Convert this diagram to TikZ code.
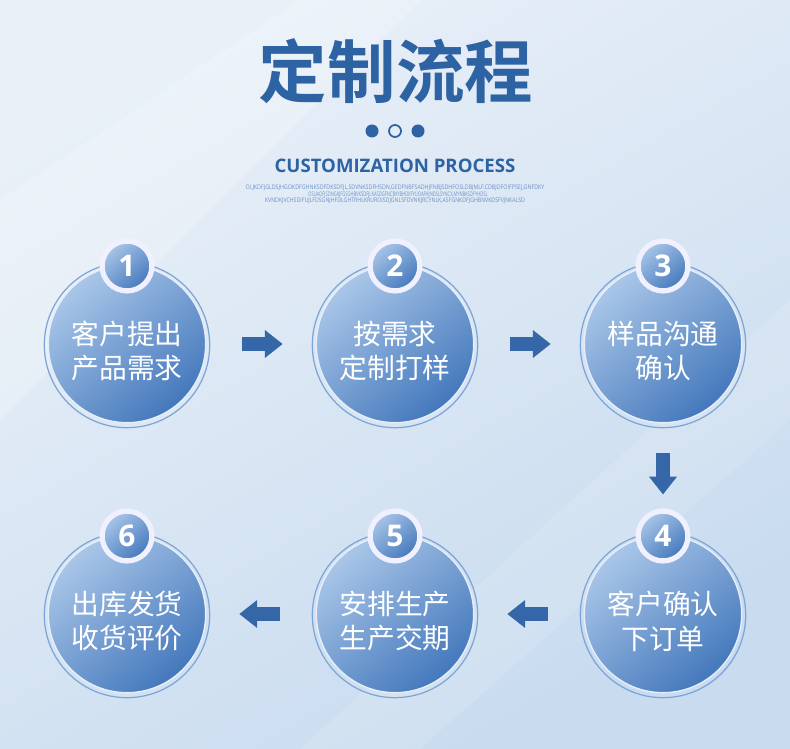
\documentclass[tikz,border=0pt]{standalone}
\usepackage{fontspec}
\usepackage{graphicx}
\setmainfont{Open Sans}
\newfontfamily\cjk{Noto Sans CJK SC}
\newfontfamily\cjkb{Noto Sans CJK SC Bold}
\usetikzlibrary{arrows.meta,calc}
\definecolor{titleblue}{HTML}{2D62A3}
\definecolor{arrowblue}{HTML}{3566A8}
\definecolor{circlelight}{HTML}{A9C6E8}
\definecolor{circledark}{HTML}{4478BC}
\definecolor{ringblue}{HTML}{7DA4D6}
\definecolor{bgA}{HTML}{E9F0F8}
\definecolor{bgB}{HTML}{C8DBEF}
\definecolor{tinyblue}{HTML}{6A90C4}
\tikzset{
  mainc/.style={circle, minimum size=158*0.567pt, inner sep=0pt,
    top color=circlelight, bottom color=circledark, shading angle=40,
    draw=white!70!circlelight, line width=0.8pt},
  ringc/.style={circle, minimum size=166*0.567pt, inner sep=0pt, draw=ringblue, line width=0.7pt},
  numc/.style={circle, minimum size=50*0.567pt, inner sep=0pt,
    top color=circlelight, bottom color=circledark, shading angle=40,
    draw=white!94!blue, line width=3pt,
    text=white, font=\fontsize{17pt}{17pt}\selectfont\bfseries},
  steptext/.style={align=center, text=white, inner sep=0pt,
    font=\cjk\fontsize{15.8pt}{19.8pt}\selectfont},
  blockarrow/.style={draw=arrowblue, line width=7.9pt,
    -{Triangle[width=15.3pt,length=10.2pt]}},
}
\begin{document}
\begin{tikzpicture}[x=0.02cm,y=-0.02cm]
\useasboundingbox (0,0) rectangle (790,749);
\shade[top color=bgA, bottom color=bgB, shading angle=30] (0,0) rectangle (790,749);
\fill[white, opacity=0.2] (0,200) -- (300,0) -- (420,0) -- (0,420) -- cycle;
\fill[white, opacity=0.12] (300,749) -- (790,300) -- (790,420) -- (420,749) -- cycle;

% title
\node[text=titleblue, font=\cjkb\fontsize{39pt}{39pt}\selectfont] (title) at (396,71) {定制流程};
\fill[titleblue] (372,131) circle (6.5);
\draw[titleblue, line width=1pt] (395,131) circle (6);
\fill[titleblue] (418,131) circle (6.5);
\node[text=titleblue, font=\fontsize{10.6pt}{10.6pt}\selectfont\bfseries] (sub) at (395,166) {CUSTOMIZATION PROCESS};
\node[text=tinyblue, inner sep=0pt] (t1) at (395,188) {\resizebox{170pt}{2.6pt}{OLJKDFJGLDSJHGOKDFGHNKSDFDKSDFJL,SDVNKSDFHSDN,GEDFNBFSADHJFNBJSDHFOSLDBJMLF.CDBJDFOIFPSEJ,GNFDKY}};
\node[text=tinyblue, inner sep=0pt] (t2) at (398,195) {\resizebox{102pt}{2.6pt}{OSUAOFJSDNGKJFGSGHBVKSDFJLKASDGFNCBXYBHDXFYUOAFHJNDSLSYNCX,MYNBASDFYHDSL}};
\node[text=tinyblue, inner sep=0pt] (t3) at (395,201) {\resizebox{148pt}{2.6pt}{KVNDKJVCHSDIFUJLFDSGNJHFDLGHTRHLKRUROISDJGNLSFDVNKJRCYNLK,ASFGNKDFJGHBNVKDSFVJNKALSD}};

% steps
\foreach \i/\x/\y/\t in {1/127/344/{客户提出\\产品需求},
                         2/395/344/{按需求\\定制打样},
                         3/663/344/{样品沟通\\确认},
                         4/663/614/{客户确认\\下订单},
                         5/395/614/{安排生产\\生产交期},
                         6/127/614/{出库发货\\收货评价}}{
  \node[ringc] (r\i) at (\x,\y+1) {};
  \node[mainc] (c\i) at (\x,\y) {};
  \node[steptext] (s\i) at (\x,\y+7) {\t};
  \node[numc] (n\i) at (\x,\y-78) {\i};
}

% arrows
\draw[blockarrow, shorten <=36*0.567pt, shorten >=33*0.567pt] (c1) -- (c2);
\draw[blockarrow, shorten <=36*0.567pt, shorten >=33*0.567pt] (c2) -- (c3);
\draw[blockarrow, shorten <=30*0.567pt, shorten >=14*0.567pt] (c3.south) -- (n4.north);
\draw[blockarrow, shorten <=36*0.567pt, shorten >=33*0.567pt] (c4) -- (c5);
\draw[blockarrow, shorten <=36*0.567pt, shorten >=33*0.567pt] (c5) -- (c6);
\end{tikzpicture}
\end{document}
